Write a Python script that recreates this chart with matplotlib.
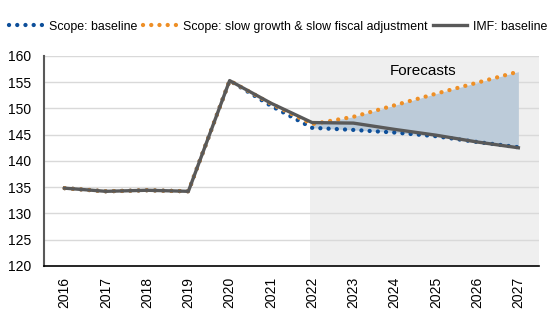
import matplotlib.pyplot as plt
import numpy as np

plt.rcParams['font.family'] = ['Liberation Sans', 'DejaVu Sans']

years = ['2016', '2017', '2018', '2019', '2020', '2021',
         '2022', '2023', '2024', '2025', '2026', '2027']
scope_base = [134.8, 134.2, 134.4, 134.2, 155.3, 150.5,
              146.3, 145.9, 145.4, 144.7, 143.6, 142.6]
scope_slow = [134.8, 134.2, 134.4, 134.2, 155.3, 150.9,
              147.0, 148.4, 150.6, 152.8, 154.9, 157.0]
imf_base = [134.8, 134.2, 134.4, 134.2, 155.3, 151.0,
            147.3, 147.2, 146.0, 144.9, 143.6, 142.5]

x = np.arange(len(years))
fc = years.index('2022')

fig = plt.figure(figsize=(5.5, 3.29), dpi=100)
ax = fig.add_axes([0.08, 0.192, 0.90, 0.638])

# forecast period background and scenario band
ax.axvspan(fc - 0.06, len(years) - 0.5, color='#efefef', zorder=0, lw=0)
ax.fill_between(x[fc:], scope_base[fc:], scope_slow[fc:],
                color='#bccbd9', lw=0, zorder=1)

for v in range(125, 161, 5):
    ax.axhline(v, color='#d9d9d9', lw=1, zorder=0.5)

dots = dict(linestyle=(0, (0.01, 1.9)), dash_capstyle='round', lw=3.1)
ax.plot(x, scope_base, color='#0d4f9a', label='Scope: baseline', zorder=3, **dots)
ax.plot(x, scope_slow, color='#ee8f26',
        label='Scope: slow growth & slow fiscal adjustment', zorder=3, **dots)
ax.plot(x, imf_base, color='#595959', lw=2.4, label='IMF: baseline', zorder=4)

ax.text(fc + 2.7, 157.2, 'Forecasts', fontsize=11, ha='center', va='center')

ax.set_xlim(-0.5, len(years) - 0.5)
ax.set_ylim(120, 160)
ax.set_yticks(range(120, 161, 5))
ax.set_xticks(x)
ax.set_xticklabels(years, rotation=90)
ax.tick_params(length=0, labelsize=10, colors='black')
ax.tick_params(axis='x', pad=8)
ax.tick_params(axis='y', pad=9)

for s in ['top', 'right']:
    ax.spines[s].set_visible(False)
ax.spines['left'].set_color('#595959')
ax.spines['left'].set_linewidth(1.5)
ax.spines['bottom'].set_color('black')
ax.spines['bottom'].set_linewidth(1.2)

ax.legend(loc='center', bbox_to_anchor=(0.473, 1.14), ncol=3, frameon=False,
          fontsize=8.9, handlelength=2.75, handletextpad=0.5, columnspacing=0.45,
          borderaxespad=0)

fig.savefig('out.png', dpi=100)
